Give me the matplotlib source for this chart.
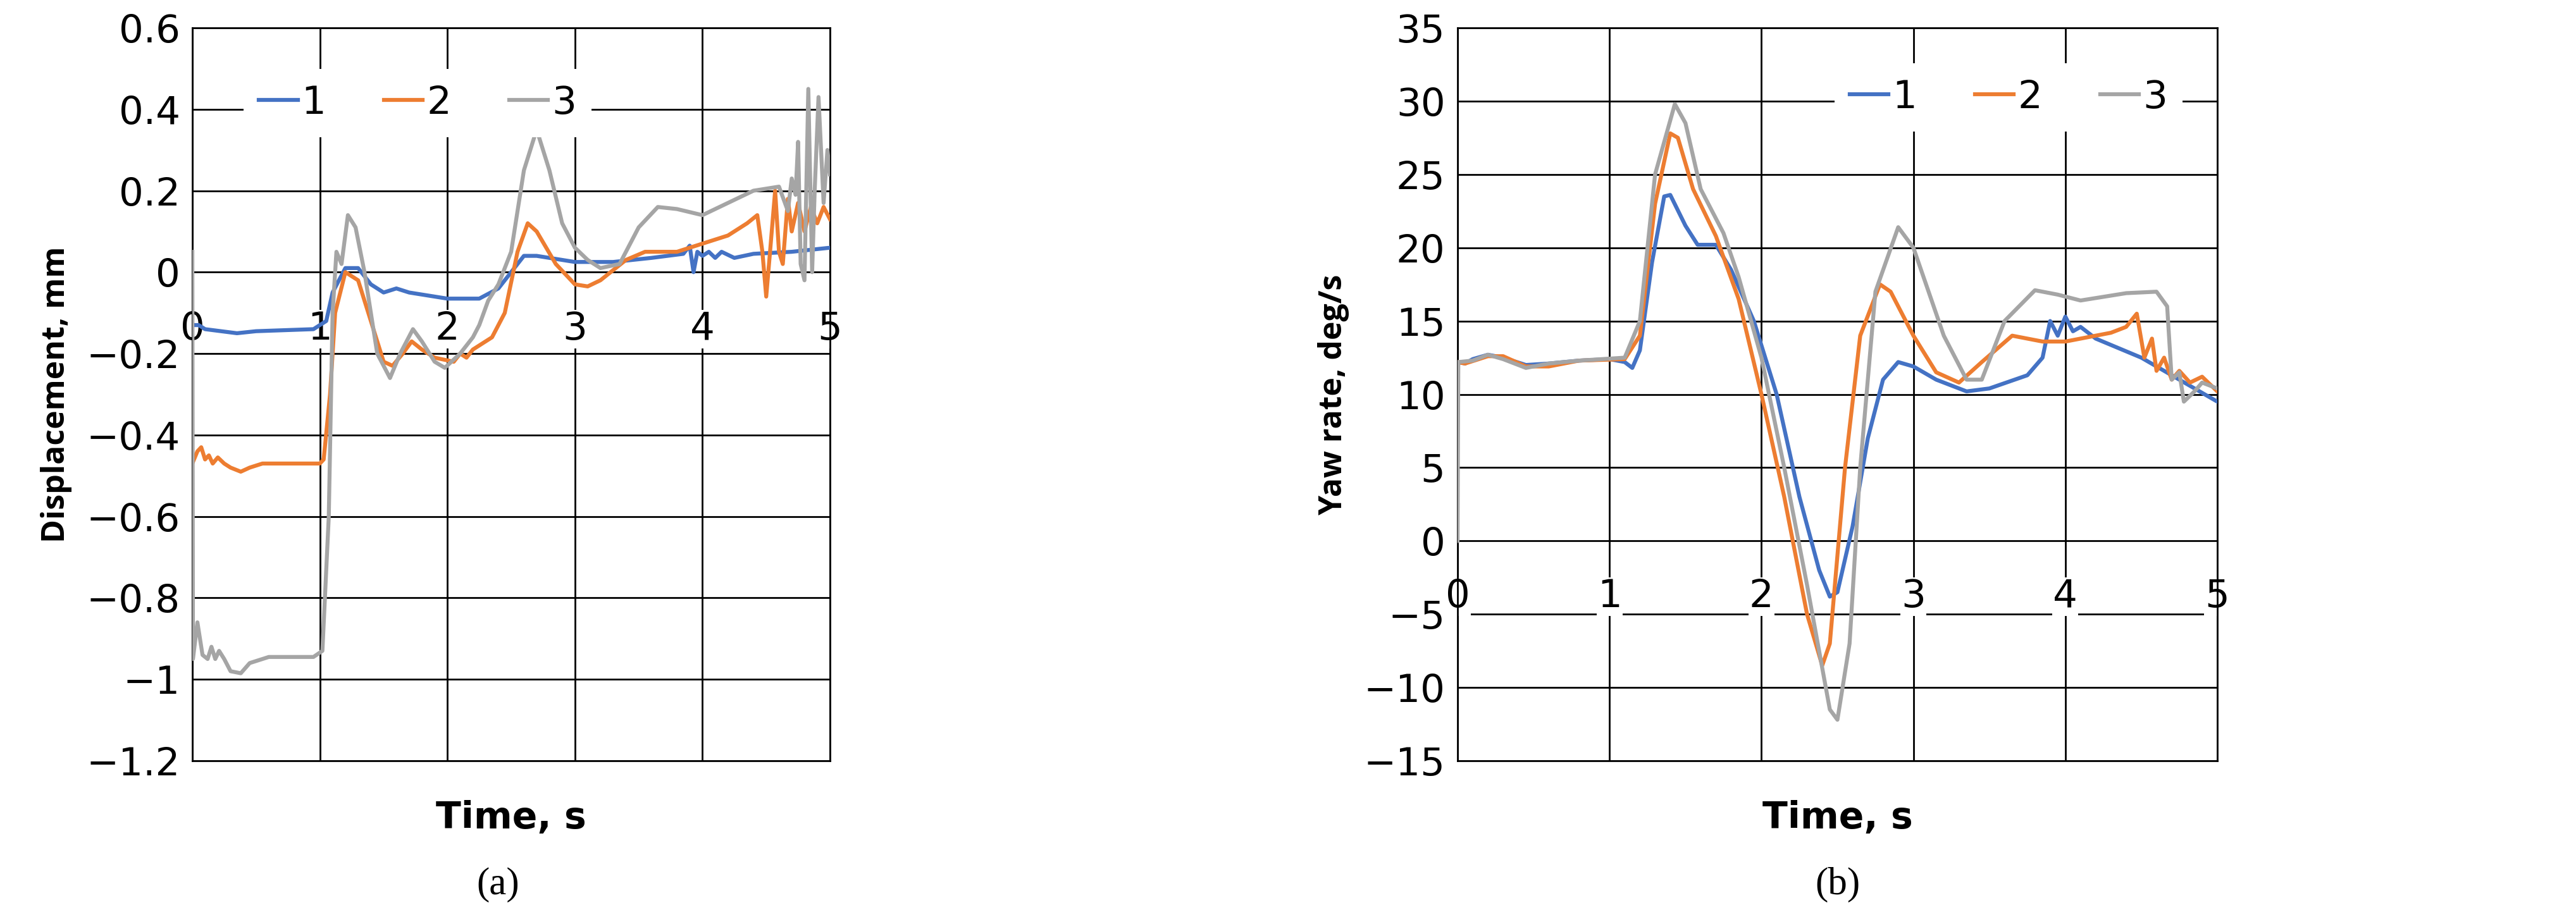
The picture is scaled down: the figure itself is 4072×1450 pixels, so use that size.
import matplotlib
matplotlib.use("Agg")
import matplotlib.pyplot as plt
from matplotlib import font_manager

# ---- data: panel (a) displacement, mm
a1_t = [0, 0.05, 0.1, 0.35, 0.5, 0.95, 1.05, 1.1, 1.2, 1.3, 1.4, 1.5, 1.6, 1.7, 1.9, 2.0, 2.25, 2.4, 2.5, 2.6,
        2.7, 2.9, 3.0, 3.3, 3.6, 3.85, 3.9, 3.93, 3.96, 4.0, 4.05, 4.1, 4.15, 4.25, 4.4, 4.7, 5.0]
a1_y = [-0.13, -0.13, -0.14, -0.15, -0.145, -0.14, -0.12, -0.05, 0.01, 0.01, -0.03, -0.05, -0.04, -0.05, -0.06,
        -0.065, -0.065, -0.04, 0.0, 0.04, 0.04, 0.03, 0.025, 0.025, 0.035, 0.045, 0.065, 0.0, 0.05, 0.04, 0.05,
        0.035, 0.05, 0.035, 0.045, 0.05, 0.06]
a2_t = [0, 0.04, 0.07, 0.1, 0.13, 0.16, 0.2, 0.25, 0.3, 0.38, 0.45, 0.55, 0.9, 1.0, 1.03, 1.08, 1.12, 1.2, 1.3,
        1.4, 1.5, 1.57, 1.65, 1.72, 1.8, 1.9, 2.05, 2.1, 2.15, 2.2, 2.35, 2.45, 2.55, 2.63, 2.7, 2.85, 3.0, 3.1,
        3.2, 3.4, 3.55, 3.8, 4.0, 4.2, 4.35, 4.43, 4.47, 4.5, 4.53, 4.57, 4.6, 4.63, 4.67, 4.7, 4.75, 4.8, 4.85,
        4.9, 4.95, 5.0]
a2_y = [-0.47, -0.44, -0.43, -0.46, -0.45, -0.47, -0.455, -0.47, -0.48, -0.49, -0.48, -0.47, -0.47, -0.47,
        -0.46, -0.3, -0.1, 0.0, -0.02, -0.12, -0.22, -0.23, -0.2, -0.17, -0.19, -0.21, -0.22, -0.2, -0.21, -0.19,
        -0.16, -0.1, 0.05, 0.12, 0.1, 0.02, -0.03, -0.035, -0.02, 0.03, 0.05, 0.05, 0.07, 0.09, 0.12, 0.14, 0.05,
        -0.06, 0.05, 0.2, 0.05, 0.02, 0.18, 0.1, 0.17, 0.1, 0.16, 0.12, 0.16, 0.13]
a3_t = [0, 0.005, 0.04, 0.08, 0.12, 0.15, 0.18, 0.21, 0.25, 0.3, 0.38, 0.45, 0.6, 0.95, 1.02, 1.07, 1.1, 1.13,
        1.17, 1.22, 1.28, 1.35, 1.45, 1.55, 1.63, 1.73, 1.8, 1.9, 1.98, 2.1, 2.2, 2.25, 2.32, 2.4, 2.5, 2.6, 2.7,
        2.8, 2.9, 3.0, 3.1, 3.2, 3.35, 3.5, 3.65, 3.8, 4.0, 4.2, 4.4, 4.6, 4.67, 4.7, 4.73, 4.75, 4.77, 4.8, 4.83,
        4.86, 4.88, 4.91, 4.95, 4.98, 5.0]
a3_y = [0.05, -0.95, -0.86, -0.94, -0.95, -0.92, -0.95, -0.93, -0.95, -0.98, -0.985, -0.96, -0.945, -0.945,
        -0.93, -0.6, -0.1, 0.05, 0.02, 0.14, 0.11, 0.0, -0.2, -0.26, -0.2, -0.14, -0.17, -0.22, -0.235, -0.2,
        -0.16, -0.13, -0.07, -0.03, 0.05, 0.25, 0.35, 0.25, 0.12, 0.06, 0.03, 0.01, 0.02, 0.11, 0.16, 0.155, 0.14,
        0.17, 0.2, 0.21, 0.15, 0.23, 0.19, 0.32, 0.02, -0.02, 0.45, 0.0, 0.2, 0.43, 0.17, 0.3, 0.24]

# ---- data: panel (b) yaw rate, deg/s
b1_t = [0, 0.05, 0.1, 0.2, 0.3, 0.45, 0.6, 0.8, 1.0, 1.1, 1.15, 1.2, 1.28, 1.36, 1.4, 1.5, 1.58, 1.7, 1.8, 1.95,
        2.1, 2.25, 2.38, 2.45, 2.5, 2.6, 2.7, 2.8, 2.9, 3.0, 3.15, 3.35, 3.5, 3.75, 3.85, 3.9, 3.95, 4.0, 4.05,
        4.1, 4.2, 4.5, 5.0]
b1_y = [12.2, 12.1, 12.4, 12.7, 12.5, 12.0, 12.1, 12.3, 12.4, 12.2, 11.8, 13, 19, 23.5, 23.6, 21.5, 20.2, 20.2,
        18.5, 15, 10, 3, -2, -3.8, -3.5, 1, 7, 11, 12.2, 11.9, 11, 10.2, 10.4, 11.3, 12.5, 15, 14, 15.3, 14.3,
        14.6, 13.8, 12.5, 9.5]
b2_t = [0, 0.05, 0.2, 0.3, 0.45, 0.6, 0.8, 1.1, 1.2, 1.3, 1.4, 1.45, 1.55, 1.7, 1.85, 2.0, 2.15, 2.3, 2.4, 2.45,
        2.55, 2.65, 2.78, 2.85, 3.0, 3.15, 3.3, 3.45, 3.65, 3.85, 4.0, 4.3, 4.4, 4.47, 4.52, 4.57, 4.6, 4.65, 4.7,
        4.75, 4.82, 4.9, 5.0]
b2_y = [12.2, 12.1, 12.6, 12.6, 11.9, 11.9, 12.3, 12.4, 14, 23, 27.8, 27.5, 24, 20.8, 16.5, 10, 3, -5, -8.5, -7,
        5, 14, 17.5, 17, 14, 11.5, 10.8, 12.2, 14, 13.6, 13.6, 14.2, 14.6, 15.5, 12.5, 13.8, 11.6, 12.5, 11,
        11.6, 10.8, 11.2, 10.2]
b3_t = [0, 0.005, 0.1, 0.2, 0.3, 0.45, 0.6, 0.8, 1.1, 1.2, 1.3, 1.43, 1.5, 1.6, 1.75, 1.85, 2.0, 2.15, 2.3, 2.45,
        2.5, 2.58, 2.65, 2.75, 2.9, 3.0, 3.2, 3.35, 3.45, 3.6, 3.8, 3.95, 4.1, 4.4, 4.6, 4.67, 4.7, 4.75, 4.78,
        4.85, 4.9, 5.0]
b3_y = [0, 12.2, 12.3, 12.7, 12.4, 11.8, 12.1, 12.3, 12.5, 15, 25, 29.8, 28.5, 24, 21, 18, 12.5, 5, -3, -11.5,
        -12.2, -7, 5, 17, 21.4, 20, 14, 11, 11, 15, 17.1, 16.8, 16.4, 16.9, 17, 16, 11, 11.5, 9.5, 10.2, 10.8,
        10.4]

series_names = ["1", "2", "3"]
colors = ["#4472C4", "#ED7D31", "#A5A5A5"]
x_ticks = [0, 1, 2, 3, 4, 5]

avail = {f.name for f in font_manager.fontManager.ttflist}
tick_font = "Liberation Sans Narrow" if "Liberation Sans Narrow" in avail else "DejaVu Sans"
plt.rcParams["font.family"] = ["Open Sans", "DejaVu Sans"]

fig = plt.figure(figsize=(40.73, 14.5), dpi=100)
ax_a = fig.add_axes([304 / 4073, 1 - 1203 / 1450, 1008 / 4073, 1159 / 1450])
ax_b = fig.add_axes([2304 / 4073, 1 - 1203 / 1450, 1201 / 4073, 1159 / 1450])

FS = 44


def style(ax, ylim, yticks, ylabel, label_off):
    ax.set_xlim(0, 5)
    ax.set_ylim(*ylim)
    ax.set_yticks(yticks)
    ax.set_yticklabels([str(v).replace("-", "\u2212") for v in yticks], fontsize=FS, family=tick_font)
    ax.set_xticks(x_ticks)
    ax.tick_params(axis="x", length=0, labelbottom=False)
    ax.tick_params(axis="y", length=0, pad=14)
    ax.grid(True, color="black", linewidth=2)
    ax.set_axisbelow(True)
    for s in ax.spines.values():
        s.set_color("black")
        s.set_linewidth(2)
    for t in x_ticks:
        ax.text(t, label_off, str(t), ha="center", va="center", fontsize=FS, family=tick_font,
                bbox=dict(facecolor="white", edgecolor="none", pad=1), zorder=1.5)
    ax.set_ylabel(ylabel, fontsize=36, fontweight="bold", labelpad=16)
    ax.set_xlabel("Time, s", fontsize=42, fontweight="bold", family=tick_font, labelpad=45)


style(ax_a, (-1.2, 0.6), [-1.2, -1, -0.8, -0.6, -0.4, -0.2, 0, 0.2, 0.4, 0.6], "Displacement, mm", -0.14)
style(ax_b, (-15, 35), [-15, -10, -5, 0, 5, 10, 15, 20, 25, 30, 35], "Yaw rate, deg/s", -3.8)

for t, y, c, n in zip([a1_t, a2_t, a3_t], [a1_y, a2_y, a3_y], colors, series_names):
    ax_a.plot(t, y, color=c, linewidth=4.5, label=n, zorder=3)
for t, y, c, n in zip([b1_t, b2_t, b3_t], [b1_y, b2_y, b3_y], colors, series_names):
    ax_b.plot(t, y, color=c, linewidth=4.5, label=n, zorder=3)

leg_kw = dict(ncol=3, frameon=True, handlelength=1.0, handletextpad=0.1, columnspacing=1.5,
              edgecolor="none", framealpha=1, prop={"family": tick_font, "size": FS})
ax_a.legend(loc="upper left", bbox_to_anchor=(0.05, 0.97), **leg_kw)
ax_b.legend(loc="center right", bbox_to_anchor=(0.98, 0.905), **leg_kw)

fig.text(ax_a.get_position().x0 + ax_a.get_position().width / 2 - 0.005, 0.025, "(a)", ha="center",
         fontsize=44, family=["Liberation Serif", "DejaVu Serif"])
fig.text(ax_b.get_position().x0 + ax_b.get_position().width / 2, 0.025, "(b)", ha="center",
         fontsize=44, family=["Liberation Serif", "DejaVu Serif"])

fig.savefig("out.png", dpi=100, facecolor="white")
